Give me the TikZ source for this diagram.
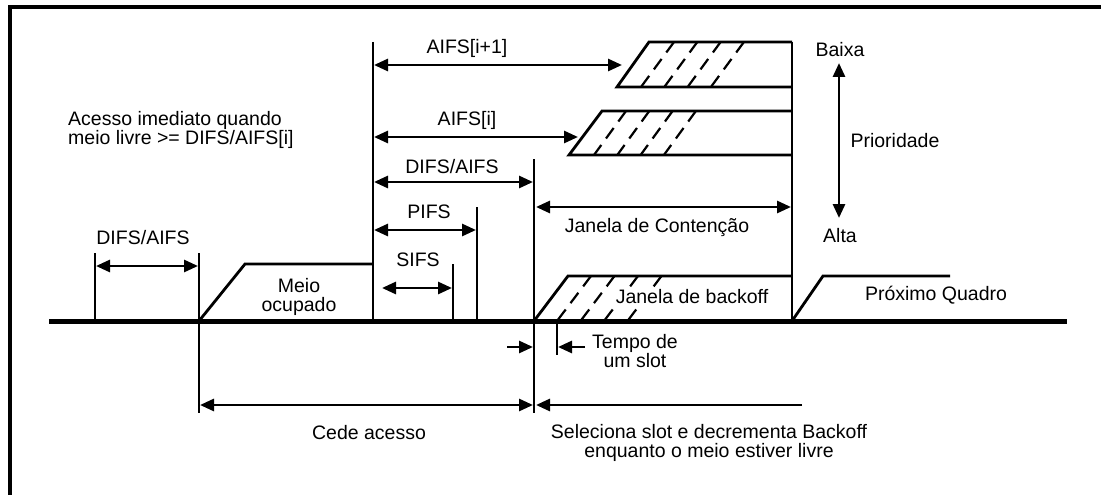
\documentclass[tikz,border=0pt]{standalone}
\usepackage{fontspec}
\setmainfont{Liberation Sans}
\usetikzlibrary{arrows.meta}
\begin{document}
\begin{tikzpicture}[x=1pt,y=-1pt,
  lbl/.style={font=\fontsize{19.5}{18.5}\selectfont, inner sep=1pt, align=center},
  ln/.style={line width=2.8pt},
  tip/.tip={Triangle[length=14pt,width=12pt]},
  dim/.style={line width=2.8pt, tip-tip},
  rarr/.style={line width=2.8pt, -tip},
  hatch/.style={line width=2.2pt, dash pattern=on 13pt off 8pt},
  base/.style={line width=5pt},
  frame/.style={line width=4pt}]
\useasboundingbox (0,0) rectangle (1101,495);
% frame
\coordinate (fa) at (10,495);
\coordinate (fb) at (10,7);
\coordinate (fc) at (1101,7);
\draw[frame] (fa) -- (fb) -- (fc);
% baseline
\coordinate (b0) at (49,321);
\coordinate (b1) at (1067,321);
\draw[base] (b0) -- (b1);
% vertical ticks
\coordinate (t0a) at (95,253);  \coordinate (t0b) at (95,321);
\coordinate (t1a) at (199,253); \coordinate (t1b) at (199,413);
\coordinate (vAa) at (373,42);  \coordinate (vAb) at (373,321);
\coordinate (vSa) at (453,264); \coordinate (vSb) at (453,321);
\coordinate (vPa) at (477,207); \coordinate (vPb) at (477,321);
\coordinate (vDa) at (534,159); \coordinate (vDb) at (534,413);
\coordinate (vRa) at (792,42);  \coordinate (vRb) at (792,321);
\coordinate (vTa) at (557,321); \coordinate (vTb) at (557,355);
\foreach \a/\b in {t0a/t0b,t1a/t1b,vAa/vAb,vSa/vSb,vPa/vPb,vDa/vDb,vRa/vRb,vTa/vTb}
  \draw[ln] (\a) -- (\b);
% Meio ocupado
\coordinate (m1) at (199,321); \coordinate (m2) at (245,264); \coordinate (m3) at (373,264);
\draw[ln] (m1) -- (m2) -- (m3);
% box AIFS[i+1]
\coordinate (p1) at (617,87); \coordinate (p2) at (649,42); \coordinate (p3) at (792,42); \coordinate (p4) at (792,87);
\draw[ln] (p4) -- (p1) -- (p2) -- (p3);
\foreach \k in {0,1,2,3}
  \draw[hatch] (674+23.3*\k,42) -- (641+23.3*\k,87);
% box AIFS[i]
\coordinate (q1) at (569,155); \coordinate (q2) at (602,111); \coordinate (q3) at (792,111); \coordinate (q4) at (792,155);
\draw[ln] (q4) -- (q1) -- (q2) -- (q3);
\foreach \k in {0,1,2,3}
  \draw[hatch] (626+23.3*\k,111) -- (594+23.3*\k,155);
% backoff box
\coordinate (r1) at (534,321); \coordinate (r2) at (568,276); \coordinate (r3) at (792,276);
\draw[ln] (r1) -- (r2) -- (r3);
\foreach \k in {0,1,2,3}
  \draw[hatch] (591+23.5*\k,276) -- (557+23.5*\k,321);
% proximo quadro
\coordinate (n1) at (792,321); \coordinate (n2) at (823,276); \coordinate (n3) at (950,276);
\draw[ln] (n1) -- (n2) -- (n3);
% dimension arrows
\coordinate (d1a) at (96,266);  \coordinate (d1b) at (198,266);
\coordinate (d2a) at (374,65);  \coordinate (d2b) at (622,65);
\coordinate (d3a) at (374,137); \coordinate (d3b) at (578,137);
\coordinate (d4a) at (374,182); \coordinate (d4b) at (533,182);
\coordinate (d5a) at (374,230); \coordinate (d5b) at (476,230);
\coordinate (d6a) at (382,288); \coordinate (d6b) at (452,288);
\coordinate (d7a) at (536,207); \coordinate (d7b) at (791,207);
\coordinate (d8a) at (839,63);  \coordinate (d8b) at (839,218);
\coordinate (d9a) at (200,405); \coordinate (d9b) at (533,405);
\foreach \a/\b in {d1a/d1b,d2a/d2b,d3a/d3b,d4a/d4b,d5a/d5b,d6a/d6b,d7a/d7b,d8a/d8b,d9a/d9b}
  \draw[dim] (\a) -- (\b);
\coordinate (s1a) at (507,347); \coordinate (s1b) at (533,347);
\coordinate (s2a) at (585,347); \coordinate (s2b) at (558,347);
\coordinate (e1a) at (802,405); \coordinate (e1b) at (536,405);
\draw[rarr] (s1a) -- (s1b);
\draw[rarr] (s2a) -- (s2b);
\draw[rarr] (e1a) -- (e1b);
% labels
\node[lbl] (lDifs0) at (143,238) {DIFS/AIFS};
\node[lbl] (lMeio) at (299,297) {Meio\\ocupado};
\node[lbl, anchor=west, align=left] (lAcesso) at (67,130) {Acesso imediato quando\\meio livre >= DIFS/AIFS[i]};
\node[lbl] (lA1) at (467,48) {AIFS[i+1]};
\node[lbl] (lA0) at (467,120) {AIFS[i]};
\node[lbl] (lDifs) at (452,167) {DIFS/AIFS};
\node[lbl] (lPifs) at (429,212) {PIFS};
\node[lbl] (lSifs) at (418,260) {SIFS};
\node[lbl] (lCont) at (657,227) {Janela de Contenção};
\node[lbl, fill=white, inner xsep=3pt, inner ysep=0.5pt] (lBack) at (692,297) {Janela de backoff};
\node[lbl] (lProx) at (936,295) {Próximo Quadro};
\node[lbl] (lBaixa) at (840,50) {Baixa};
\node[lbl] (lPrio) at (895,141) {Prioridade};
\node[lbl] (lAlta) at (840,236) {Alta};
\node[lbl] (lTempo) at (635,351) {Tempo de\\um slot};
\node[lbl] (lCede) at (369,433) {Cede acesso};
\node[lbl] (lSel) at (709,443) {Seleciona slot e decrementa Backoff\\enquanto o meio estiver livre};
\end{tikzpicture}
\end{document}
